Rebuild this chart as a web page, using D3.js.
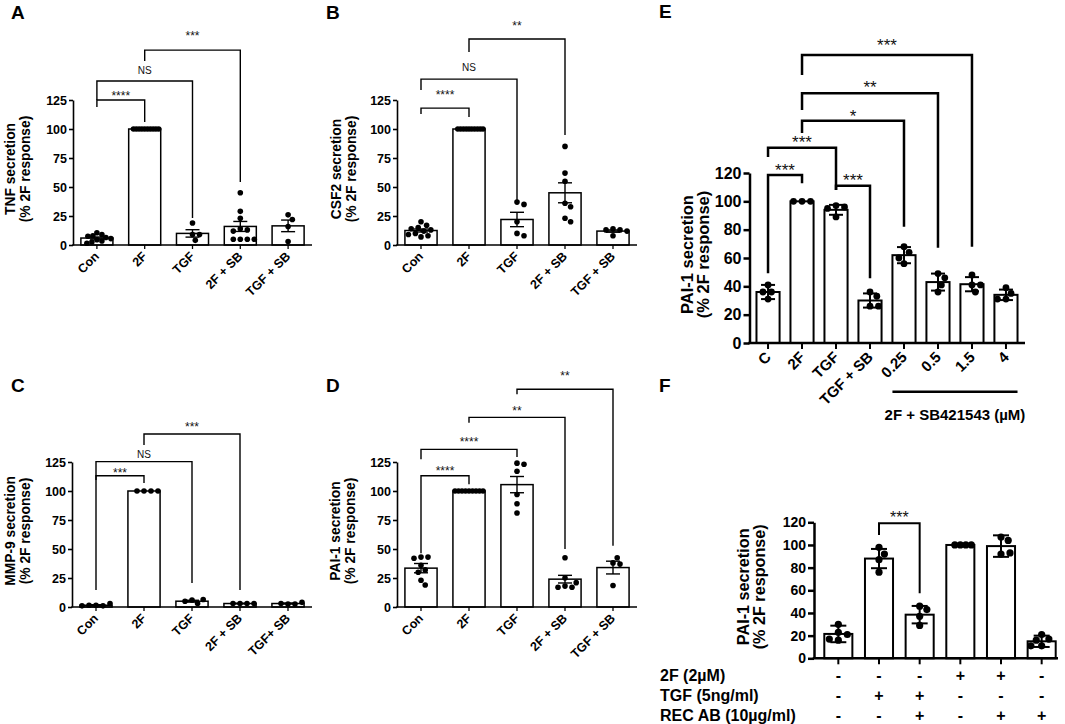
<!DOCTYPE html>
<html>
<head>
<meta charset="utf-8">
<script src="https://cdn.jsdelivr.net/npm/d3@7"></script>
<style>
  body { margin: 0; background: #fff; }
</style>
</head>
<body>
<svg id="fig" width="1065" height="724"></svg>
<script>
const FONT = "Arial, 'Liberation Sans', Helvetica, sans-serif";

// ---- A: TNF ----
const catsA = ["Con", "2F", "TGF", "2F + SB", "TGF + SB"];
const meanA = [6, 100, 10, 16, 16.5];
const errA = [0.9, 0, 3.2, 4.3, 5];
const ptsA = [
  [10.5, 9, 8, 7.5, 6.5, 5.5, 4.5, 3.5, 2.5, 1.5],
  [100, 100, 100, 100, 100, 100, 100, 100, 100, 100],
  [19, 9, 9, 4],
  [45, 29, 23, 14, 13, 12, 5, 5, 5, 5],
  [26, 22, 16, 3]
];
// [from, to, top, left leg end, right leg end, label, label centre]
const sigA = [
  ["Con", "2F", 125, 119, 106, "****", 131.3],
  ["Con", "TGF", 141.4, 125, 23.3, "NS", 150.9],
  ["2F", "2F + SB", 168, 158.6, 54.3, "***", 182.8]
];

// ---- B: CSF2 ----
const catsB = ["Con", "2F", "TGF", "2F + SB", "TGF + SB"];
const meanB = [12.5, 100, 22, 45, 12];
const errB = [1.3, 0, 6.2, 8.6, 1];
const ptsB = [
  [20, 17, 15, 14, 13, 12, 10, 9, 8, 7],
  [100, 100, 100, 100, 100, 100, 100, 100, 100, 100],
  [37, 35, 20, 10, 8],
  [85, 62, 55, 36, 33, 23, 20],
  [14, 13, 13, 12, 8]
];
const sigB = [
  ["Con", "2F", 118, 113, 110.3, "****", 131.9],
  ["Con", "TGF", 143, 133.6, 38.8, "NS", 153.4],
  ["2F", "2F + SB", 177.6, 166.4, 94.8, "**", 191.4]
];

// ---- C: MMP-9 ----
const catsC = ["Con", "2F", "TGF", "2F + SB", "TGF+ SB"];
const meanC = [1.5, 100, 5, 3, 3];
const errC = [0.5, 0, 0.8, 0.2, 0.4];
const ptsC = [
  [1.5, 1, 1.5, 3, 1],
  [100, 100, 100, 100],
  [6, 3, 5, 6.5],
  [3, 3, 3, 3],
  [2.5, 2.5, 3, 4]
];
const sigC = [
  ["Con", "2F", 113.2, 109.5, 106.9, "***", 117.7],
  ["Con", "TGF", 125.3, 14.7, 20.7, "NS", 131.9],
  ["2F", "2F + SB", 149.1, 139.7, 14.7, "***", 157.8]
];

// ---- D: PAI-1 ----
const catsD = ["Con", "2F", "TGF", "2F + SB", "TGF + SB"];
const meanD = [33.5, 100, 105.5, 24, 34];
const errD = [4, 0, 7, 3.3, 5.5];
const ptsD = [
  [43, 43, 42, 36, 32, 30, 23, 19],
  [100, 100, 100, 100, 100, 100, 100, 100, 100],
  [124, 123, 117, 97, 89, 81],
  [42.5, 25, 18, 17, 17, 21],
  [38, 37, 42.5, 18.5]
];
const sigD = [
  ["Con", "2F", 113.2, 46.3, 105.8, "****", 119.8],
  ["Con", "TGF", 135.9, 127.3, 129.3, "****", 144.8],
  ["2F", "2F + SB", 163.5, 158.9, 50, "**", 171.6],
  ["TGF", "TGF + SB", 187.7, 183.4, 52.8, "**", 201.5]
];

// ---- E: PAI-1, SB421543 dose ----
const catsE = ["C", "2F", "TGF", "TGF + SB", "0.25", "0.5", "1.5", "4"];
const meanE = [36, 100, 94, 30, 62, 43, 41.5, 34];
const errE = [5, 0, 3.5, 5, 5.7, 6, 5, 3.7];
const ptsE = [
  [41, 36, 36, 31],
  [100, 100, 100],
  [97, 96, 95, 89],
  [36, 33, 26, 26],
  [68, 64, 56, 60],
  [49, 46, 36, 41],
  [48, 41, 41, 36],
  [39, 35, 31, 31]
];
const sigE = [
  ["C", "2F", 118.6, 49.2, 112.7, "***", 125.1],
  ["C", "TGF", 137.9, 131.3, 108, "***", 144.7],
  ["TGF", "TGF + SB", 111, 108, 45.7, "***", 118.1],
  ["2F", "0.25", 156.9, 148.2, 82.1, "*", 163.3],
  ["2F", "0.5", 176.3, 164.5, 67.3, "**", 183.7],
  ["2F", "1.5", 203.3, 189.2, 68, "***", 213.4]
];
const doseGroupE = ["0.25", "0.5", "1.5", "4"];
const doseLabelE = "2F + SB421543 (µM)";

// ---- F: PAI-1, REC AB ----
const catsF = ["G1", "G2", "G3", "G4", "G5", "G6"];
const meanF = [21.5, 88, 38.5, 100, 99, 15];
const errF = [7.3, 8.5, 7.7, 0, 9.5, 5];
const ptsF = [
  [30, 23, 21, 16, 17],
  [98, 92, 87, 76],
  [46, 43, 37, 29],
  [100, 100, 100, 100],
  [107, 104, 92, 93],
  [21, 17, 16, 11, 11]
];
const sigF = [["G2", "G3", 119.1, 108.8, 57.4, "***", 128]];
const rowLabelsF = ["2F (2µM)", "TGF (5ng/ml)", "REC AB (10µg/ml)"];
const rowSignsF = [
  ["-", "-", "-", "+", "+", "-"],
  ["-", "+", "+", "-", "-", "-"],
  ["-", "-", "+", "-", "+", "+"]
];

const ticks125 = [0, 25, 50, 75, 100, 125];
const ticks120 = [0, 20, 40, 60, 80, 100, 120];

const svg = d3.select("#fig").attr("font-family", FONT);
svg.append("rect").attr("width", 1065).attr("height", 724).attr("fill", "#fff");

// simple beeswarm, squeezed to fit inside the bar
function swarm(vals, y, r, half) {
  const d = 2 * r + 0.6, pts = [];
  vals.forEach(v => {
    const py = y(v);
    for (let k = 0; ; k++) {
      const dx = (k % 2 ? 1 : -1) * Math.ceil(k / 2) * r * 0.5;
      if (pts.every(p => Math.hypot(p.dx - dx, p.py - py) >= d)) { pts.push({ py, dx }); break; }
    }
  });
  const m = d3.max(pts, p => Math.abs(p.dx));
  const f = m > half ? half / m : 1;
  pts.forEach(p => p.dx = (p.dx || 0) * f);
  return pts;
}

function drawPanel(p, s) {
  const g = svg.append("g");
  const x = d3.scaleBand().domain(p.cats).range(p.xr).paddingInner(s.pi).paddingOuter(p.po);
  const y = d3.scaleLinear().domain([0, p.ymax]).range(p.yr);
  const bw = x.bandwidth(), cx = c => x(c) + bw / 2;

  g.selectAll(".bar").data(p.cats).join("rect")
    .attr("class", "bar")
    .attr("x", d => x(d))
    .attr("width", bw)
    .attr("y", (d, i) => y(p.means[i]))
    .attr("height", (d, i) => y(0) - y(p.means[i]))
    .attr("fill", "#fff").attr("stroke", "#000").attr("stroke-width", s.barW);

  p.cats.forEach((c, i) => {
    g.append("g").selectAll("circle").data(swarm(p.pts[i], y, s.dotR, s.half)).join("circle")
      .attr("cx", d => cx(c) + d.dx).attr("cy", d => d.py).attr("r", s.dotR).attr("fill", "#000");
  });

  p.cats.forEach((c, i) => {
    const e = p.errs[i], m = p.means[i];
    if (!e) return;
    const eg = g.append("g").attr("stroke", "#000").attr("stroke-width", s.errW);
    eg.append("line").attr("x1", cx(c)).attr("x2", cx(c)).attr("y1", y(m - e)).attr("y2", y(m + e));
    [m - e, m + e].forEach(v => eg.append("line")
      .attr("x1", cx(c) - s.cap).attr("x2", cx(c) + s.cap).attr("y1", y(v)).attr("y2", y(v)));
  });

  // axes
  const ya = g.append("g").attr("transform", `translate(${p.ax},0)`)
    .call(d3.axisLeft(y).tickValues(p.ticks).tickSize(s.tick).tickSizeOuter(0).tickPadding(2));
  ya.attr("font-family", FONT).attr("font-size", s.tickFont).attr("font-weight", "bold");
  ya.select(".domain").attr("stroke-width", s.axisW);
  ya.selectAll(".tick line").attr("stroke-width", s.axisW);
  ya.selectAll(".tick text").attr("fill", "#000");

  const xa = g.append("g").attr("transform", `translate(0,${y(0)})`)
    .call(d3.axisBottom(x).tickSize(s.tick).tickSizeOuter(0).tickFormat(p.noLabels ? () => "" : d => d));
  xa.attr("font-family", FONT).attr("font-size", s.catFont).attr("font-weight", "bold");
  xa.select(".domain").attr("d", `M${p.ax - s.axisW / 2},0H${p.ax1}`).attr("stroke-width", s.axisW);
  xa.selectAll(".tick line").attr("stroke-width", s.axisW * 0.8);
  xa.selectAll(".tick text").attr("fill", "#000")
    .attr("x", 0).attr("y", 0).attr("dy", 0).attr("text-anchor", "end")
    .attr("transform", `translate(${s.lblDx},${s.lblDy}) rotate(-45)`);

  // significance brackets
  p.sig.forEach(([a, b, top, le, re, lab, ly]) => {
    g.append("path")
      .attr("d", `M${cx(a)},${y(le)}V${y(top)}H${cx(b)}V${y(re)}`)
      .attr("fill", "none").attr("stroke", "#000").attr("stroke-width", s.brW);
    const star = lab.includes("*");
    const fs = star ? s.starFont : s.nsFont;
    g.append("text")
      .attr("x", (cx(a) + cx(b)) / 2)
      .attr("y", y(ly) + (star ? 0.58 : 0.36) * fs)
      .attr("text-anchor", "middle").attr("font-size", fs)
      .attr("fill", "#111")
      .text(lab);
  });

  // y title
  const tc = (y(0) + y(p.ymax)) / 2 - 3.5;
  p.title.forEach((t, k) => {
    g.append("text")
      .attr("transform", `translate(${p.tx[k]},${tc}) rotate(-90)`)
      .attr("text-anchor", "middle").attr("font-size", s.titleFont).attr("font-weight", "bold")
      .text(t);
  });

  g.append("text").attr("x", p.letter[0]).attr("y", p.letter[1])
    .attr("font-size", 19).attr("font-weight", "bold").text(p.name);

  return { x, y, cx, bw, g };
}

const small = { pi: 0.33, tickFont: 12.5, catFont: 12.5, titleFont: 13.8, axisW: 1.6, barW: 1.5,
  errW: 1.4, dotR: 2.8, brW: 1.4, starFont: 12, nsFont: 10, tick: 4, cap: 7, half: 14, lblDx: 3, lblDy: 12 };

drawPanel({ name: "A", cats: catsA, means: meanA, errs: errA, pts: ptsA, sig: sigA,
  ticks: ticks125, ymax: 125, yr: [245, 100], xr: [73, 312], po: 0.165, ax: 73, ax1: 312,
  title: ["TNF secretion", "(% 2F response)"], tx: [15, 30], letter: [11, 19] }, small);

drawPanel({ name: "B", cats: catsB, means: meanB, errs: errB, pts: ptsB, sig: sigB,
  ticks: ticks125, ymax: 125, yr: [245, 100], xr: [397, 637], po: 0.165, ax: 397, ax1: 637,
  title: ["CSF2 secretion", "(% 2F response)"], tx: [341, 356], letter: [326, 19] }, small);

drawPanel({ name: "C", cats: catsC, means: meanC, errs: errC, pts: ptsC, sig: sigC,
  ticks: ticks125, ymax: 125, yr: [607, 462], xr: [72, 312], po: 0.165, ax: 72, ax1: 312,
  title: ["MMP-9 secretion", "(% 2F response)"], tx: [15, 30], letter: [11, 392] }, small);

drawPanel({ name: "D", cats: catsD, means: meanD, errs: errD, pts: ptsD, sig: sigD,
  ticks: ticks125, ymax: 125, yr: [607, 462], xr: [397, 637], po: 0.165, ax: 397, ax1: 637,
  title: ["PAI-1 secretion", "(% 2F response)"], tx: [340, 355], letter: [326, 392] }, small);

const big = { pi: 0.32, tickFont: 16, catFont: 15, titleFont: 16.5, axisW: 2.5, barW: 2,
  errW: 2, dotR: 3.4, brW: 2.5, starFont: 17, nsFont: 12, tick: 6, cap: 7, half: 9, lblDx: 4, lblDy: 15 };

const E = drawPanel({ name: "E", cats: catsE, means: meanE, errs: errE, pts: ptsE, sig: sigE,
  ticks: ticks120, ymax: 120, yr: [343, 173], xr: [749, 1025], po: 0.22, ax: 749.5, ax1: 1025,
  title: ["PAI-1 secretion", "(% 2F response)"], tx: [693, 709], letter: [659, 18] }, big);

// dose group underline
const u0 = E.x(doseGroupE[0]), u1 = E.x(doseGroupE[doseGroupE.length - 1]) + E.bw;
E.g.append("line").attr("x1", u0).attr("x2", u1).attr("y1", 391.7).attr("y2", 391.7)
  .attr("stroke", "#000").attr("stroke-width", 2.5);
E.g.append("text").attr("x", (u0 + u1) / 2).attr("y", 420).attr("text-anchor", "middle")
  .attr("font-size", 15).attr("font-weight", "bold").text(doseLabelE);

const fStyle = Object.assign({}, big, { pi: 0.31, tickFont: 14, titleFont: 16.2, dotR: 3.6,
  brW: 2, starFont: 16, cap: 8, half: 11 });

const F = drawPanel({ name: "F", cats: catsF, means: meanF, errs: errF, pts: ptsF, sig: sigF,
  ticks: ticks120, ymax: 120, yr: [658.3, 522.3], xr: [818, 1062], po: 0.155, ax: 814, ax1: 1058,
  noLabels: true, title: ["PAI-1 secretion", "(% 2F response)"], tx: [749, 765], letter: [659, 392] }, fStyle);

// +/- table under F
const rowY = [681, 701, 721];
rowLabelsF.forEach((lab, r) => {
  F.g.append("text").attr("x", 660).attr("y", rowY[r])
    .attr("font-size", 16).attr("font-weight", "bold").text(lab);
  F.g.append("g").selectAll("text").data(rowSignsF[r]).join("text")
    .attr("x", (d, i) => F.cx(catsF[i])).attr("y", rowY[r])
    .attr("text-anchor", "middle").attr("font-size", 16).attr("font-weight", "bold")
    .text(d => d);
});
</script>
</body>
</html>
